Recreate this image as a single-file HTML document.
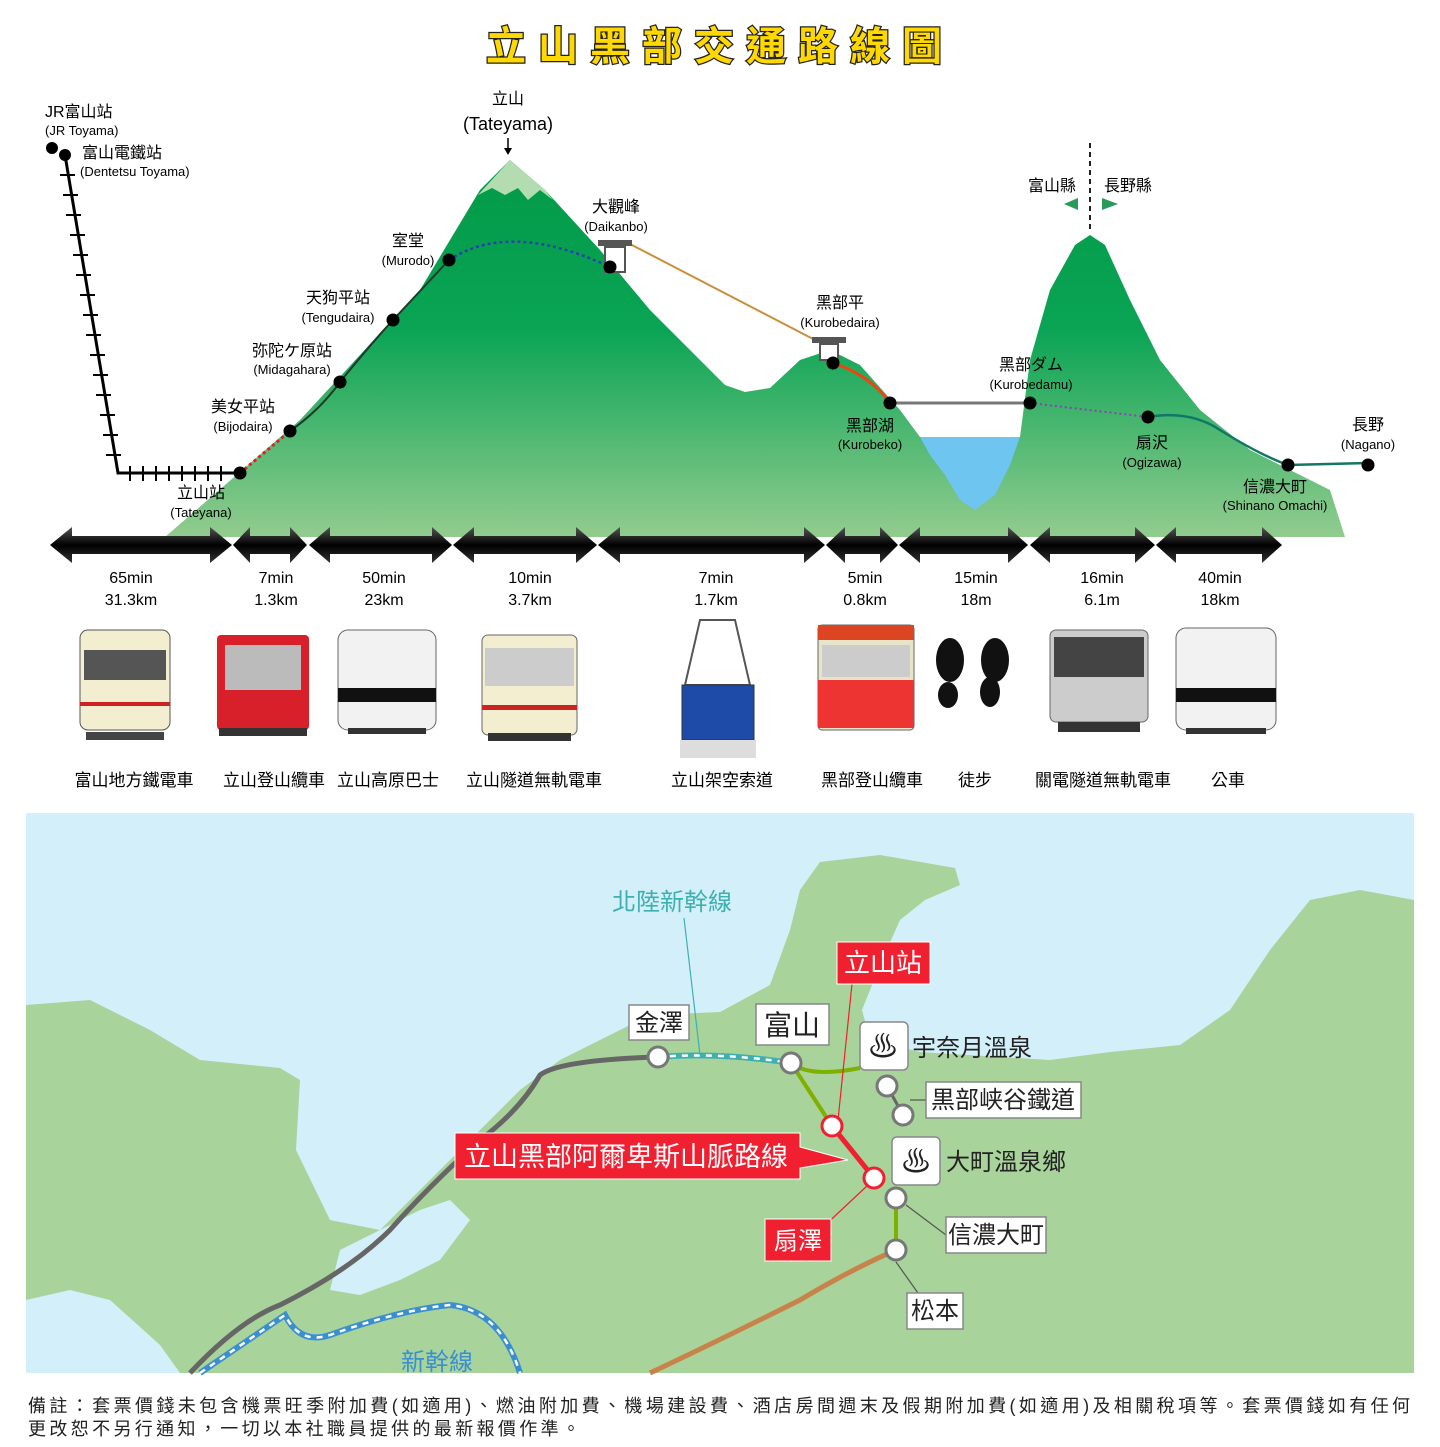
<!DOCTYPE html>
<html><head><meta charset="utf-8"><style>
html,body{margin:0;padding:0;background:#fff;}
body{width:1440px;height:1442px;overflow:hidden;font-family:"Liberation Sans","Noto Sans CJK TC",sans-serif;}
svg text{font-family:"Liberation Sans","Noto Sans CJK TC",sans-serif;}
</style></head><body>
<svg width="1440" height="1442" viewBox="0 0 1440 1442" xmlns="http://www.w3.org/2000/svg">
<defs>
<linearGradient id="mg" x1="0" y1="160" x2="0" y2="537" gradientUnits="userSpaceOnUse">
<stop offset="0" stop-color="#009a48"/><stop offset="0.45" stop-color="#0aa455"/><stop offset="1" stop-color="#92cc8e"/></linearGradient>
<linearGradient id="ar" x1="0" y1="0" x2="0" y2="1">
<stop offset="0" stop-color="#555"/><stop offset="0.5" stop-color="#000"/><stop offset="1" stop-color="#333"/></linearGradient>
</defs>

<text x="720" y="60" text-anchor="middle" font-size="40" font-weight="bold" fill="#ffd800" stroke="#222" stroke-width="2.5" paint-order="stroke" letter-spacing="12">立山黑部交通路線圖</text>

<path d="M165,537 L300,420 L420,290 L480,190 L510,160 L545,190 L600,250 L650,310 L700,360 L725,385 L745,392 L770,388 L800,360 L830,350 L860,365 L900,410 L920,437 L1020,437 L1030,360 L1050,290 L1075,245 L1090,235 L1105,245 L1130,300 L1160,360 L1200,410 L1250,450 L1290,470 L1330,490 L1345,537 Z" fill="url(#mg)"/>
<path d="M920,437 L1020,437 L1010,465 L995,495 L975,510 L960,500 L945,475 L930,455 Z" fill="#6ec6f0"/>
<path d="M478,195 L510,160 L545,190 L553,200 L540,190 L528,200 L518,188 L505,195 L492,188 Z" fill="#b3ddb0"/>

<polyline points="65,155 118,473 240,473" fill="none" stroke="#000" stroke-width="3"/>
<g stroke="#000" stroke-width="2">
<line x1="60" y1="175" x2="75" y2="175"/><line x1="63" y1="195" x2="78" y2="195"/><line x1="66" y1="215" x2="81" y2="215"/><line x1="70" y1="235" x2="85" y2="235"/><line x1="73" y1="255" x2="88" y2="255"/><line x1="76" y1="275" x2="91" y2="275"/><line x1="80" y1="295" x2="95" y2="295"/><line x1="83" y1="315" x2="98" y2="315"/><line x1="86" y1="335" x2="101" y2="335"/><line x1="90" y1="355" x2="105" y2="355"/><line x1="93" y1="375" x2="108" y2="375"/><line x1="96" y1="395" x2="111" y2="395"/><line x1="100" y1="415" x2="115" y2="415"/><line x1="103" y1="435" x2="118" y2="435"/><line x1="106" y1="455" x2="121" y2="455"/>
<line x1="130" y1="466" x2="130" y2="481"/><line x1="143" y1="466" x2="143" y2="481"/><line x1="156" y1="466" x2="156" y2="481"/><line x1="169" y1="466" x2="169" y2="481"/><line x1="182" y1="466" x2="182" y2="481"/><line x1="195" y1="466" x2="195" y2="481"/><line x1="208" y1="466" x2="208" y2="481"/><line x1="221" y1="466" x2="221" y2="481"/>
</g>
<line x1="240" y1="473" x2="290" y2="431" stroke="#d22" stroke-width="3" stroke-dasharray="3,3"/>
<path d="M290,431 Q320,410 340,382 Q370,345 393,320 L449,260" fill="none" stroke="#1e3a2a" stroke-width="2"/>
<path d="M449,260 Q510,220 610,267" fill="none" stroke="#2244aa" stroke-width="2.5" stroke-dasharray="3,3"/>
<line x1="630" y1="244" x2="815" y2="340" stroke="#c8903a" stroke-width="2"/>
<rect x="598" y="240" width="34" height="6" fill="#555"/><rect x="605" y="247" width="20" height="25" fill="#fff" stroke="#555" stroke-width="2"/>
<rect x="812" y="337" width="34" height="6" fill="#555"/><rect x="820" y="344" width="18" height="16" fill="#fff" stroke="#555" stroke-width="2"/>
<path d="M833,363 Q870,375 890,403" fill="none" stroke="#ee4411" stroke-width="3"/>
<line x1="890" y1="403" x2="1030" y2="403" stroke="#777" stroke-width="3"/>
<path d="M1030,403 L1148,417" stroke="#8844aa" stroke-width="2" stroke-dasharray="2,3"/>
<path d="M1148,417 Q1190,410 1220,430 Q1260,455 1288,465 L1368,463" fill="none" stroke="#117766" stroke-width="2.5"/>
<line x1="1090" y1="143" x2="1090" y2="232" stroke="#222" stroke-width="2" stroke-dasharray="5,4"/>
<path d="M1064,204 L1078,198 L1078,210 Z" fill="#2a9a5a"/>
<path d="M1102,198 L1118,204 L1102,210 Z" fill="#2a9a5a"/>
<line x1="508" y1="138" x2="508" y2="152" stroke="#000" stroke-width="1.5"/><path d="M504,148 L508,155 L512,148 Z" fill="#000"/>
<g fill="#000">
<circle cx="52" cy="148" r="6"/><circle cx="65" cy="155" r="6"/><circle cx="240" cy="473" r="6.5"/><circle cx="290" cy="431" r="6.5"/><circle cx="340" cy="382" r="6.5"/><circle cx="393" cy="320" r="6.5"/><circle cx="449" cy="260" r="6.5"/><circle cx="610" cy="267" r="6.5"/><circle cx="833" cy="363" r="6.5"/><circle cx="890" cy="403" r="6.5"/><circle cx="1030" cy="403" r="6.5"/><circle cx="1148" cy="417" r="6.5"/><circle cx="1288" cy="465" r="6.5"/><circle cx="1368" cy="465" r="6.5"/>
</g>
<g font-size="16" fill="#000">
<text x="45" y="117">JR富山站</text><text x="45" y="135" font-size="13">(JR Toyama)</text>
<text x="82" y="158">富山電鐵站</text><text x="80" y="176" font-size="13">(Dentetsu Toyama)</text>
<text x="508" y="104" text-anchor="middle">立山</text><text x="508" y="130" text-anchor="middle" font-size="18">(Tateyama)</text>
<text x="616" y="212" text-anchor="middle">大觀峰</text><text x="616" y="231" text-anchor="middle" font-size="13">(Daikanbo)</text>
<text x="408" y="246" text-anchor="middle">室堂</text><text x="408" y="265" text-anchor="middle" font-size="13">(Murodo)</text>
<text x="338" y="303" text-anchor="middle">天狗平站</text><text x="338" y="322" text-anchor="middle" font-size="13">(Tengudaira)</text>
<text x="292" y="356" text-anchor="middle">弥陀ケ原站</text><text x="292" y="374" text-anchor="middle" font-size="13">(Midagahara)</text>
<text x="243" y="412" text-anchor="middle">美女平站</text><text x="243" y="431" text-anchor="middle" font-size="13">(Bijodaira)</text>
<text x="201" y="498" text-anchor="middle">立山站</text><text x="201" y="517" text-anchor="middle" font-size="13">(Tateyana)</text>
<text x="840" y="308" text-anchor="middle">黑部平</text><text x="840" y="327" text-anchor="middle" font-size="13">(Kurobedaira)</text>
<text x="870" y="431" text-anchor="middle">黑部湖</text><text x="870" y="449" text-anchor="middle" font-size="13">(Kurobeko)</text>
<text x="1031" y="370" text-anchor="middle">黑部ダム</text><text x="1031" y="389" text-anchor="middle" font-size="13">(Kurobedamu)</text>
<text x="1152" y="448" text-anchor="middle">扇沢</text><text x="1152" y="467" text-anchor="middle" font-size="13">(Ogizawa)</text>
<text x="1275" y="492" text-anchor="middle">信濃大町</text><text x="1275" y="510" text-anchor="middle" font-size="13">(Shinano Omachi)</text>
<text x="1368" y="430" text-anchor="middle">長野</text><text x="1368" y="449" text-anchor="middle" font-size="13">(Nagano)</text>
<text x="1052" y="191" text-anchor="middle">富山縣</text><text x="1128" y="191" text-anchor="middle">長野縣</text>
</g>

<g fill="url(#ar)">
<path d="M50,545 L72,527 L72,536 L210,536 L210,527 L232,545 L210,563 L210,554 L72,554 L72,563 Z"/>
<path d="M233,545 L250,527 L250,536 L290,536 L290,527 L307,545 L290,563 L290,554 L250,554 L250,563 Z"/>
<path d="M309,545 L330,527 L330,536 L432,536 L432,527 L452,545 L432,563 L432,554 L330,554 L330,563 Z"/>
<path d="M453,545 L474,527 L474,536 L576,536 L576,527 L597,545 L576,563 L576,554 L474,554 L474,563 Z"/>
<path d="M598,545 L620,527 L620,536 L804,536 L804,527 L825,545 L804,563 L804,554 L620,554 L620,563 Z"/>
<path d="M826,545 L845,527 L845,536 L880,536 L880,527 L898,545 L880,563 L880,554 L845,554 L845,563 Z"/>
<path d="M899,545 L920,527 L920,536 L1008,536 L1008,527 L1028,545 L1008,563 L1008,554 L920,554 L920,563 Z"/>
<path d="M1030,545 L1050,527 L1050,536 L1135,536 L1135,527 L1155,545 L1135,563 L1135,554 L1050,554 L1050,563 Z"/>
<path d="M1156,545 L1176,527 L1176,536 L1262,536 L1262,527 L1282,545 L1262,563 L1262,554 L1176,554 L1176,563 Z"/>
</g>
<g font-size="16" fill="#000" text-anchor="middle">
<text x="131" y="583">65min</text><text x="131" y="605">31.3km</text>
<text x="276" y="583">7min</text><text x="276" y="605">1.3km</text>
<text x="384" y="583">50min</text><text x="384" y="605">23km</text>
<text x="530" y="583">10min</text><text x="530" y="605">3.7km</text>
<text x="716" y="583">7min</text><text x="716" y="605">1.7km</text>
<text x="865" y="583">5min</text><text x="865" y="605">0.8km</text>
<text x="976" y="583">15min</text><text x="976" y="605">18m</text>
<text x="1102" y="583">16min</text><text x="1102" y="605">6.1m</text>
<text x="1220" y="583">40min</text><text x="1220" y="605">18km</text>
</g>

<g>
<rect x="80" y="630" width="90" height="100" rx="8" fill="#f2eecf" stroke="#555"/><rect x="84" y="650" width="82" height="30" fill="#555"/><rect x="80" y="702" width="90" height="4" fill="#c22"/><rect x="86" y="732" width="78" height="8" fill="#444"/>
<rect x="217" y="635" width="92" height="95" rx="4" fill="#d8202a"/><rect x="225" y="645" width="76" height="45" fill="#bbb"/><rect x="219" y="728" width="88" height="8" fill="#333"/>
<rect x="338" y="630" width="98" height="100" rx="10" fill="#f2f2f2" stroke="#666"/><rect x="338" y="688" width="98" height="14" fill="#111"/><rect x="348" y="728" width="78" height="6" fill="#333"/>
<rect x="482" y="635" width="95" height="100" rx="6" fill="#f4eed0" stroke="#666"/><rect x="485" y="648" width="89" height="38" fill="#ccc"/><rect x="482" y="705" width="95" height="5" fill="#c22"/><rect x="488" y="733" width="83" height="8" fill="#333"/>
<path d="M700,620 L735,620 L750,685 L685,685 Z" fill="#fff" stroke="#555" stroke-width="2"/><rect x="682" y="685" width="72" height="55" fill="#1e4aa8" stroke="#333"/><rect x="680" y="740" width="76" height="18" fill="#ddd"/>
<rect x="818" y="625" width="96" height="105" rx="4" fill="#e8e4c8" stroke="#666"/><rect x="818" y="625" width="96" height="15" fill="#d42"/><rect x="818" y="680" width="96" height="48" fill="#e33"/><rect x="822" y="645" width="88" height="32" fill="#ccc"/>
<ellipse cx="950" cy="660" rx="14" ry="22" fill="#111"/><ellipse cx="948" cy="695" rx="10" ry="13" fill="#111"/><ellipse cx="995" cy="660" rx="14" ry="22" fill="#111"/><ellipse cx="990" cy="692" rx="10" ry="15" fill="#111"/>
<rect x="1050" y="630" width="98" height="92" rx="6" fill="#ccc" stroke="#666"/><rect x="1054" y="637" width="90" height="40" fill="#444"/><rect x="1058" y="722" width="82" height="10" fill="#333"/>
<rect x="1176" y="628" width="100" height="102" rx="10" fill="#f2f2f2" stroke="#666"/><rect x="1176" y="688" width="100" height="14" fill="#111"/><rect x="1186" y="728" width="80" height="6" fill="#333"/>
</g>
<g font-size="17" fill="#000" text-anchor="middle">
<text x="134" y="786">富山地方鐵電車</text><text x="274" y="786">立山登山纜車</text><text x="388" y="786">立山高原巴士</text><text x="534" y="786">立山隧道無軌電車</text><text x="722" y="786">立山架空索道</text><text x="872" y="786">黑部登山纜車</text><text x="975" y="786">徒步</text><text x="1103" y="786">關電隧道無軌電車</text><text x="1228" y="786">公車</text>
</g>

<rect x="26" y="813" width="1388" height="560" fill="#d3f0fa"/>
<path d="M26,1005 L90,1000 L150,1030 L200,1060 L280,1068 L300,1080 L296,1150 L330,1220 L380,1230 L430,1180 L480,1130 L520,1090 L560,1060 L600,1040 L650,1015 L720,1012 L770,985 L790,930 L800,890 L820,862 L880,855 L955,868 L960,885 L925,900 L900,920 L880,965 L862,1010 L870,1040 L920,1052 L1050,1060 L1110,1052 L1180,1045 L1230,1010 L1270,950 L1310,900 L1360,890 L1414,900 L1414,1373 L26,1373 Z" fill="#a8d39a"/>
<path d="M26,1300 L70,1290 L110,1300 L160,1345 L180,1373 L26,1373 Z" fill="#d3f0fa"/>
<path d="M340,1250 L380,1230 L420,1210 L450,1200 L470,1220 L440,1260 L400,1280 L360,1295 L330,1290 Z" fill="#d3f0fa"/>
<path d="M190,1373 Q240,1320 280,1305 Q350,1270 390,1230 Q430,1185 480,1140 Q520,1110 540,1075 Q560,1060 658,1057" fill="none" stroke="#666" stroke-width="5"/>
<path d="M200,1373 L285,1315 Q300,1345 330,1335 Q400,1310 450,1305 Q500,1310 520,1373" fill="none" stroke="#3a8fd0" stroke-width="6"/>
<path d="M200,1373 L285,1315 Q300,1345 330,1335 Q400,1310 450,1305 Q500,1310 520,1373" fill="none" stroke="#fff" stroke-width="2.5" stroke-dasharray="6,6"/>
<path d="M658,1057 Q720,1052 791,1063" fill="none" stroke="#3fb0b0" stroke-width="6"/>
<path d="M658,1057 Q720,1052 791,1063" fill="none" stroke="#fff" stroke-width="2.5" stroke-dasharray="6,6"/>
<path d="M791,1063 L832,1126 M791,1063 Q810,1078 860,1068" fill="none" stroke="#7fb000" stroke-width="4"/>
<path d="M832,1126 L874,1178" stroke="#f02030" stroke-width="5"/>
<path d="M896,1198 L896,1250" stroke="#7fb000" stroke-width="4"/>
<path d="M896,1250 Q850,1270 800,1300 Q720,1340 650,1373" fill="none" stroke="#c8834a" stroke-width="5"/>
<line x1="887" y1="1086" x2="903" y2="1115" stroke="#666" stroke-width="3"/>
<g stroke="#555" stroke-width="1.2" fill="none">
<line x1="684" y1="918" x2="700" y2="1055" stroke="#3fb0b0"/>
<line x1="852" y1="984" x2="838" y2="1120" stroke="#f02030"/>
<line x1="820" y1="1230" x2="868" y2="1185" stroke="#f02030"/>
<line x1="910" y1="1100" x2="926" y2="1100"/><line x1="906" y1="1205" x2="946" y2="1235"/><line x1="896" y1="1262" x2="918" y2="1293"/>
</g>
<g fill="#fff" stroke="#777" stroke-width="3">
<circle cx="658" cy="1057" r="10"/><circle cx="791" cy="1063" r="10"/><circle cx="887" cy="1086" r="10"/><circle cx="903" cy="1115" r="10"/><circle cx="896" cy="1198" r="10"/><circle cx="896" cy="1250" r="10"/>
<circle cx="832" cy="1126" r="10" stroke="#f02030"/><circle cx="874" cy="1178" r="10" stroke="#f02030"/>
</g>
<g stroke="#888" stroke-width="1.5">
<rect x="629" y="1005" width="60" height="35" fill="#fff"/><rect x="756" y="1004" width="73" height="41" fill="#fff"/>
<rect x="926" y="1082" width="155" height="36" fill="#fff"/><rect x="946" y="1217" width="100" height="36" fill="#fff"/><rect x="907" y="1293" width="56" height="36" fill="#fff"/>
<rect x="860" y="1022" width="48" height="48" rx="5" fill="#fff"/><rect x="892" y="1137" width="48" height="48" rx="5" fill="#fff"/>
</g>
<rect x="837" y="942" width="93" height="42" fill="#f02030" stroke="#fff"/>
<rect x="765" y="1219" width="66" height="42" fill="#f02030" stroke="#fff"/>
<path d="M455,1133 L800,1133 L800,1147 L848,1160 L800,1168 L800,1179 L455,1179 Z" fill="#f02030" stroke="#fff"/>
<g font-size="24" fill="#222">
<text x="659" y="1031" text-anchor="middle">金澤</text><text x="792" y="1035" text-anchor="middle" font-size="28">富山</text>
<text x="883" y="1057" text-anchor="middle" font-size="30">♨</text><text x="916" y="1172" text-anchor="middle" font-size="30">♨</text>
<text x="912" y="1056">宇奈月溫泉</text><text x="946" y="1170">大町溫泉鄉</text>
<text x="1003" y="1108" text-anchor="middle">黒部峡谷鐵道</text><text x="996" y="1243" text-anchor="middle">信濃大町</text><text x="935" y="1319" text-anchor="middle">松本</text>
<text x="883" y="972" text-anchor="middle" fill="#fff" font-size="26">立山站</text>
<text x="798" y="1249" text-anchor="middle" fill="#fff" font-size="24">扇澤</text>
<text x="626" y="1166" text-anchor="middle" fill="#fff" font-size="27">立山黑部阿爾卑斯山脈路線</text>
<text x="672" y="910" text-anchor="middle" fill="#3fb0b0">北陸新幹線</text>
<text x="437" y="1370" text-anchor="middle" fill="#3a8fd0">新幹線</text>
</g>

<g font-size="18" fill="#222">
<text x="28" y="1412" textLength="1382" lengthAdjust="spacing">備註：套票價錢未包含機票旺季附加費(如適用)、燃油附加費、機場建設費、酒店房間週末及假期附加費(如適用)及相關稅項等。套票價錢如有任何</text>
<text x="28" y="1435" textLength="552" lengthAdjust="spacing">更改恕不另行通知，一切以本社職員提供的最新報價作準。</text>
</g>
</svg>
</body></html>
